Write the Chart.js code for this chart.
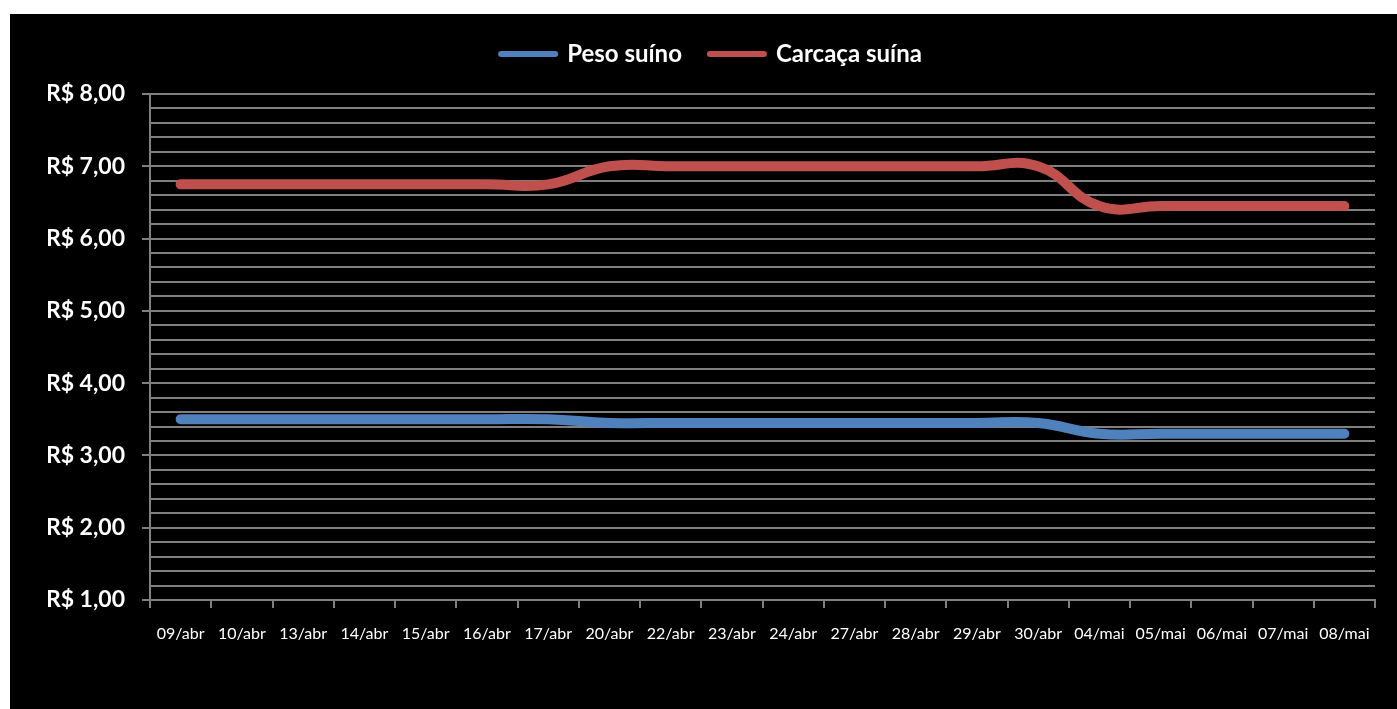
<!DOCTYPE html>
<html>
<head>
<meta charset="utf-8">
<script src="https://cdn.jsdelivr.net/npm/chart.js@4/dist/chart.umd.min.js"></script>
<style>
  html, body { margin: 0; padding: 0; background: #fff; }
  #box {
    position: absolute; left: 10px; top: 14px;
    width: 1387px; height: 695px; background: #000;
  }
</style>
</head>
<body>
<div id="box"><canvas id="chart"></canvas></div>
<script>
// Datas do período (abr/mai)
const DIAS = ["09/abr", "10/abr", "13/abr", "14/abr", "15/abr", "16/abr", "17/abr",
  "20/abr", "22/abr", "23/abr", "24/abr", "27/abr", "28/abr", "29/abr", "30/abr",
  "04/mai", "05/mai", "06/mai", "07/mai", "08/mai"];

// R$ por kg
const PESO_SUINO = [3.50, 3.50, 3.50, 3.50, 3.50, 3.50, 3.50,
  3.45, 3.45, 3.45, 3.45, 3.45, 3.45, 3.45, 3.45,
  3.30, 3.30, 3.30, 3.30, 3.30];
const CARCACA_SUINA = [6.75, 6.75, 6.75, 6.75, 6.75, 6.75, 6.75,
  7.00, 7.00, 7.00, 7.00, 7.00, 7.00, 7.00, 7.00,
  6.45, 6.45, 6.45, 6.45, 6.45];

const Y_MIN = 1;
const Y_MAX = 8;
const Y_STEP = 0.2;

const AZUL = "#4f81bd";
const VERMELHO = "#c0504d";
const GRADE = "#7f7f7f";
const FONTE = "Lato, 'Open Sans', sans-serif";

function inteiro(v) {
  return Math.abs(v - Math.round(v)) < 1e-6;
}

function reais(v) {
  return "R$ " + v.toFixed(2).replace(".", ",");
}

new Chart(document.getElementById("chart"), {
  type: "line",
  data: {
    labels: DIAS,
    datasets: [
      { label: "Peso suíno", data: PESO_SUINO, borderColor: AZUL, backgroundColor: AZUL },
      { label: "Carcaça suína", data: CARCACA_SUINA, borderColor: VERMELHO, backgroundColor: VERMELHO },
    ].map((d) => Object.assign(d, {
      xAxisID: "x",
      yAxisID: "y",
      borderWidth: 10,
      borderCapStyle: "round",
      borderJoinStyle: "round",
      tension: 0.45,
      pointRadius: 0,
      fill: false,
    })),
  },
  options: {
    responsive: true,
    maintainAspectRatio: false,
    animation: false,
    layout: { padding: { top: 0, right: 22, left: 38, bottom: 0 } },
    plugins: {
      tooltip: { enabled: false },
      legend: {
        position: "top",
        labels: {
          color: "#fff",
          font: { family: FONTE, size: 24, weight: "bold" },
          usePointStyle: true,
          pointStyle: "line",
          pointStyleWidth: 54,
          padding: 28,
          generateLabels(chart) {
            const items = Chart.defaults.plugins.legend.labels.generateLabels(chart);
            items.forEach((it) => { it.lineWidth = 6; it.lineCap = "round"; });
            return items;
          },
        },
      },
    },
    scales: {
      x: {
        offset: true,
        afterFit(s) { s.height = 109; },
        grid: {
          offset: true,
          drawOnChartArea: false,
          color: GRADE,
          tickLength: 8,
          lineWidth: 2,
        },
        border: { color: GRADE, width: 2 },
        ticks: {
          color: "#fff",
          font: { family: FONTE, size: 16 },
          padding: 16,
          maxRotation: 0,
          autoSkip: false,
        },
      },
      // eixo vazio só para abrir espaço entre a legenda e o gráfico
      topo: {
        type: "category",
        position: "top",
        afterFit(s) { s.height = 18; },
        grid: { display: false },
        border: { display: false },
        ticks: { display: false },
      },
      y: {
        min: Y_MIN,
        max: Y_MAX,
        afterFit(s) { s.width = 102; },
        grid: {
          color: GRADE,
          lineWidth: 2,
          tickLength: 8,
          tickColor: (c) => (c.tick && inteiro(c.tick.value) ? GRADE : "rgba(0,0,0,0)"),
        },
        border: { color: GRADE, width: 2 },
        ticks: {
          stepSize: Y_STEP,
          autoSkip: false,
          color: "#fff",
          padding: 17,
          font: { family: FONTE, size: 23, weight: "bold" },
          callback: (v) => (inteiro(v) ? reais(v) : ""),
        },
      },
    },
  },
});
</script>
</body>
</html>
